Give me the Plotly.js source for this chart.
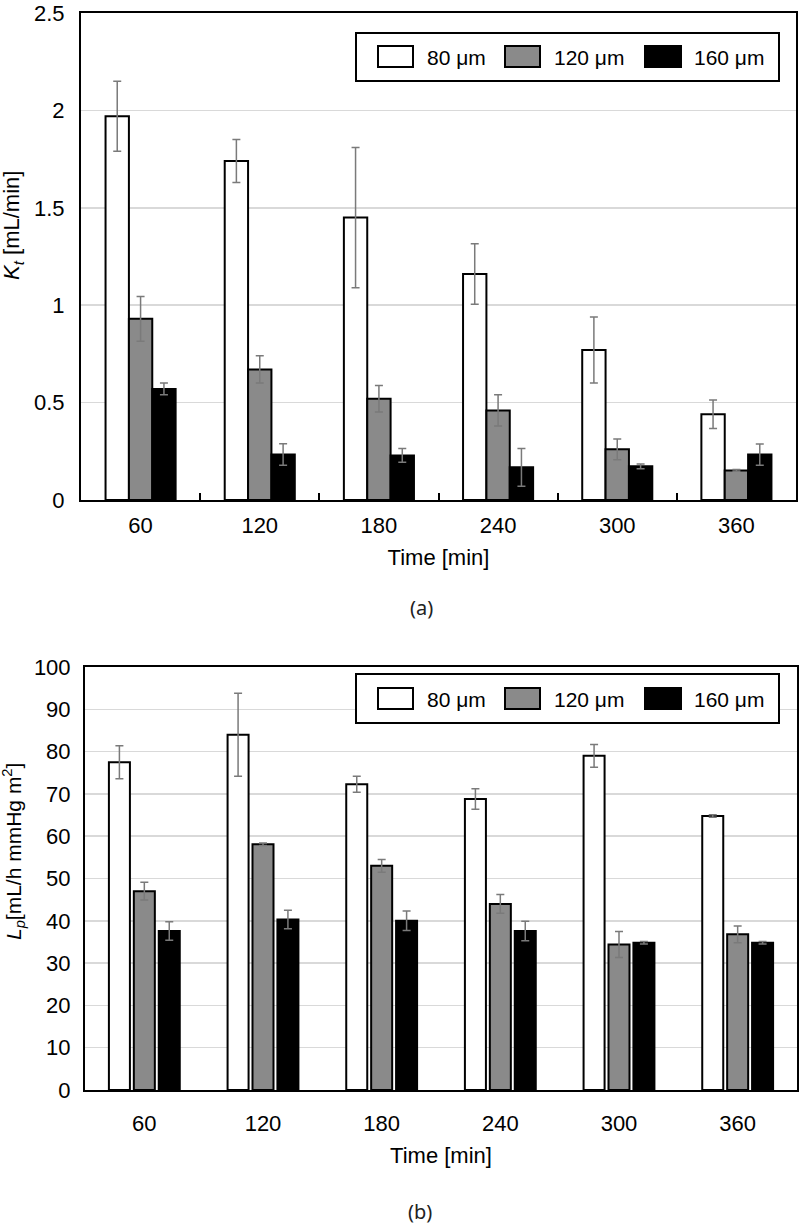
<!DOCTYPE html>
<html>
<head>
<meta charset="utf-8">
<script src="https://cdn.plot.ly/plotly-3.0.1.min.js"></script>
<style>html,body{margin:0;padding:0;background:#fff;}#chart{width:800px;height:1224px;}</style>
</head>
<body>
<div id="chart"></div>
<script>
// ---------- data ----------
const times = ['60', '120', '180', '240', '300', '360'];
const seriesNames = ['80 \u03bcm', '120 \u03bcm', '160 \u03bcm'];
const ktTicks = [0, 0.5, 1, 1.5, 2, 2.5];
const ktTickLabels = ['0', '0.5', '1', '1.5', '2', '2.5'];
const lpTicks = [0, 10, 20, 30, 40, 50, 60, 70, 80, 90, 100];

const kt80 = [1.97, 1.74, 1.45, 1.16, 0.77, 0.44];
const kt80Err = [0.18, 0.11, 0.36, 0.155, 0.17, 0.073];
const kt120 = [0.93, 0.67, 0.52, 0.46, 0.26, 0.152];
const kt120Err = [0.115, 0.07, 0.068, 0.08, 0.053, 0.004];
const kt160 = [0.57, 0.234, 0.229, 0.168, 0.173, 0.233];
const kt160Err = [0.03, 0.055, 0.035, 0.097, 0.012, 0.055];

const lp80 = [77.5, 84.0, 72.3, 68.8, 79.0, 64.8];
const lp80Err = [3.9, 9.8, 1.9, 2.4, 2.7, 0.3];
const lp120 = [47.0, 58.1, 53.0, 44.0, 34.4, 36.8];
const lp120Err = [2.1, 0.3, 1.5, 2.2, 3.1, 2.0];
const lp160 = [37.6, 40.3, 40.0, 37.6, 34.8, 34.8];
const lp160Err = [2.2, 2.2, 2.3, 2.3, 0.3, 0.3];

// ---------- styles ----------
const W = 800, H = 1224;
const FONT = 'Liberation Sans, Arial, sans-serif';
const fills = ['#ffffff', '#8a8a8a', '#000000'];
const errColor = '#7a7a7a';
const px = v => v / W;
const py = v => 1 - v / H;

function barTrace(name, y, err, i, ax, w, step) {
  return {
    type: 'bar', name: name, x: times, y: y,
    xaxis: ax[0], yaxis: ax[1],
    width: w, offset: -1.5 * step + i * step + (step - w) / 2,
    marker: {color: fills[i], line: {color: '#000', width: 2}},
    error_y: {type: 'data', array: err, visible: true, color: errColor, thickness: 1.5, width: 4},
    showlegend: false, hoverinfo: 'x+y'
  };
}

const topW = 0.196, topStep = 0.196;
const botW = 0.177, botStep = 0.21;

const data = [
  barTrace(seriesNames[0], kt80, kt80Err, 0, ['x', 'y'], topW, topStep),
  barTrace(seriesNames[1], kt120, kt120Err, 1, ['x', 'y'], topW, topStep),
  barTrace(seriesNames[2], kt160, kt160Err, 2, ['x', 'y'], topW, topStep),
  barTrace(seriesNames[0], lp80, lp80Err, 0, ['x2', 'y2'], botW, botStep),
  barTrace(seriesNames[1], lp120, lp120Err, 1, ['x2', 'y2'], botW, botStep),
  barTrace(seriesNames[2], lp160, lp160Err, 2, ['x2', 'y2'], botW, botStep)
];

// ---------- custom legends (box + swatches + labels) ----------
const shapes = [];
const annotations = [];
function addLegend(top, bottom, swTop, swBot) {
  shapes.push({type: 'rect', xref: 'paper', yref: 'paper', x0: px(356), x1: px(779), y0: py(bottom), y1: py(top),
    line: {color: '#000', width: 2}, fillcolor: '#fff', layer: 'above'});
  const swX = [[378, 413], [505, 540], [645, 681]];
  const txX = [425, 552, 692];
  for (let i = 0; i < 3; i++) {
    shapes.push({type: 'rect', xref: 'paper', yref: 'paper', x0: px(swX[i][0]), x1: px(swX[i][1]),
      y0: py(swBot), y1: py(swTop), line: {color: '#000', width: 2}, fillcolor: fills[i], layer: 'above'});
    annotations.push({xref: 'paper', yref: 'paper', x: px(txX[i]), y: py((swTop + swBot) / 2 + 1),
      xanchor: 'left', yanchor: 'middle', showarrow: false, text: seriesNames[i],
      font: {family: FONT, size: 21, color: '#000'}});
  }
}
addLegend(33, 81, 46, 67);
addLegend(674, 723, 688, 709);

// y titles and panel labels
annotations.push({xref: 'paper', yref: 'paper', x: px(13), y: py(226), xanchor: 'center', yanchor: 'middle',
  textangle: -90, showarrow: false, text: '<i>K</i><sub><i>t</i></sub> [mL/min]', font: {family: FONT, size: 22, color: '#000'}});
annotations.push({xref: 'paper', yref: 'paper', x: px(13), y: py(852), xanchor: 'center', yanchor: 'middle',
  textangle: -90, showarrow: false, text: '<i>L</i><sub><i>p</i></sub>[mL/h mmHg m<sup>2</sup>]', font: {family: FONT, size: 21, color: '#000'}});
annotations.push({xref: 'paper', yref: 'paper', x: px(421), y: py(607), xanchor: 'center', yanchor: 'middle',
  showarrow: false, text: '(a)', font: {family: 'Noto Sans, Open Sans, sans-serif', size: 20, color: '#222'}});
annotations.push({xref: 'paper', yref: 'paper', x: px(420), y: py(1211), xanchor: 'center', yanchor: 'middle',
  showarrow: false, text: '(b)', font: {family: 'Noto Sans, Open Sans, sans-serif', size: 20, color: '#222'}});

const axisCommon = {
  showline: true, linecolor: '#000', linewidth: 2, mirror: true, ticklabeloverflow: 'allow',
  tickfont: {family: FONT, size: 22, color: '#000'}, zeroline: false, fixedrange: true
};

const layout = {
  width: W, height: H,
  margin: {l: 0, r: 0, t: 0, b: 0},
  paper_bgcolor: '#fff', plot_bgcolor: '#fff',
  barmode: 'group',
  showlegend: false,
  font: {family: FONT, size: 22, color: '#000'},
  xaxis: Object.assign({}, axisCommon, {
    domain: [px(81), px(796)], anchor: 'y', type: 'category', range: [-0.5, 5.5],
    showgrid: false, ticks: 'inside', tickson: 'boundaries', ticklen: 7, tickwidth: 2, tickcolor: '#000',
    ticklabelstandoff: 5,
    title: {text: 'Time [min]', font: {family: FONT, size: 22, color: '#000'}, standoff: 12}
  }),
  yaxis: Object.assign({}, axisCommon, {
    domain: [py(500), py(13)], anchor: 'x', range: [0, 2.5],
    tickmode: 'array', tickvals: ktTicks, ticktext: ktTickLabels,
    showgrid: true, gridcolor: '#d9d9d9', gridwidth: 1.5, ticks: '', ticklabelstandoff: 10
  }),
  xaxis2: Object.assign({}, axisCommon, {
    domain: [px(85), px(797)], anchor: 'y2', type: 'category', range: [-0.5, 5.5],
    showgrid: false, ticks: '', ticklabelstandoff: 13,
    title: {text: 'Time [min]', font: {family: FONT, size: 22, color: '#000'}, standoff: 12}
  }),
  yaxis2: Object.assign({}, axisCommon, {
    domain: [py(1090), py(667)], anchor: 'x2', range: [0, 100],
    tickmode: 'array', tickvals: lpTicks,
    showgrid: true, gridcolor: '#d9d9d9', gridwidth: 1.5, ticks: '', ticklabelstandoff: 8
  }),
  shapes: shapes,
  annotations: annotations
};

Plotly.newPlot('chart', data, layout, {staticPlot: true, displayModeBar: false});
</script>
</body>
</html>
